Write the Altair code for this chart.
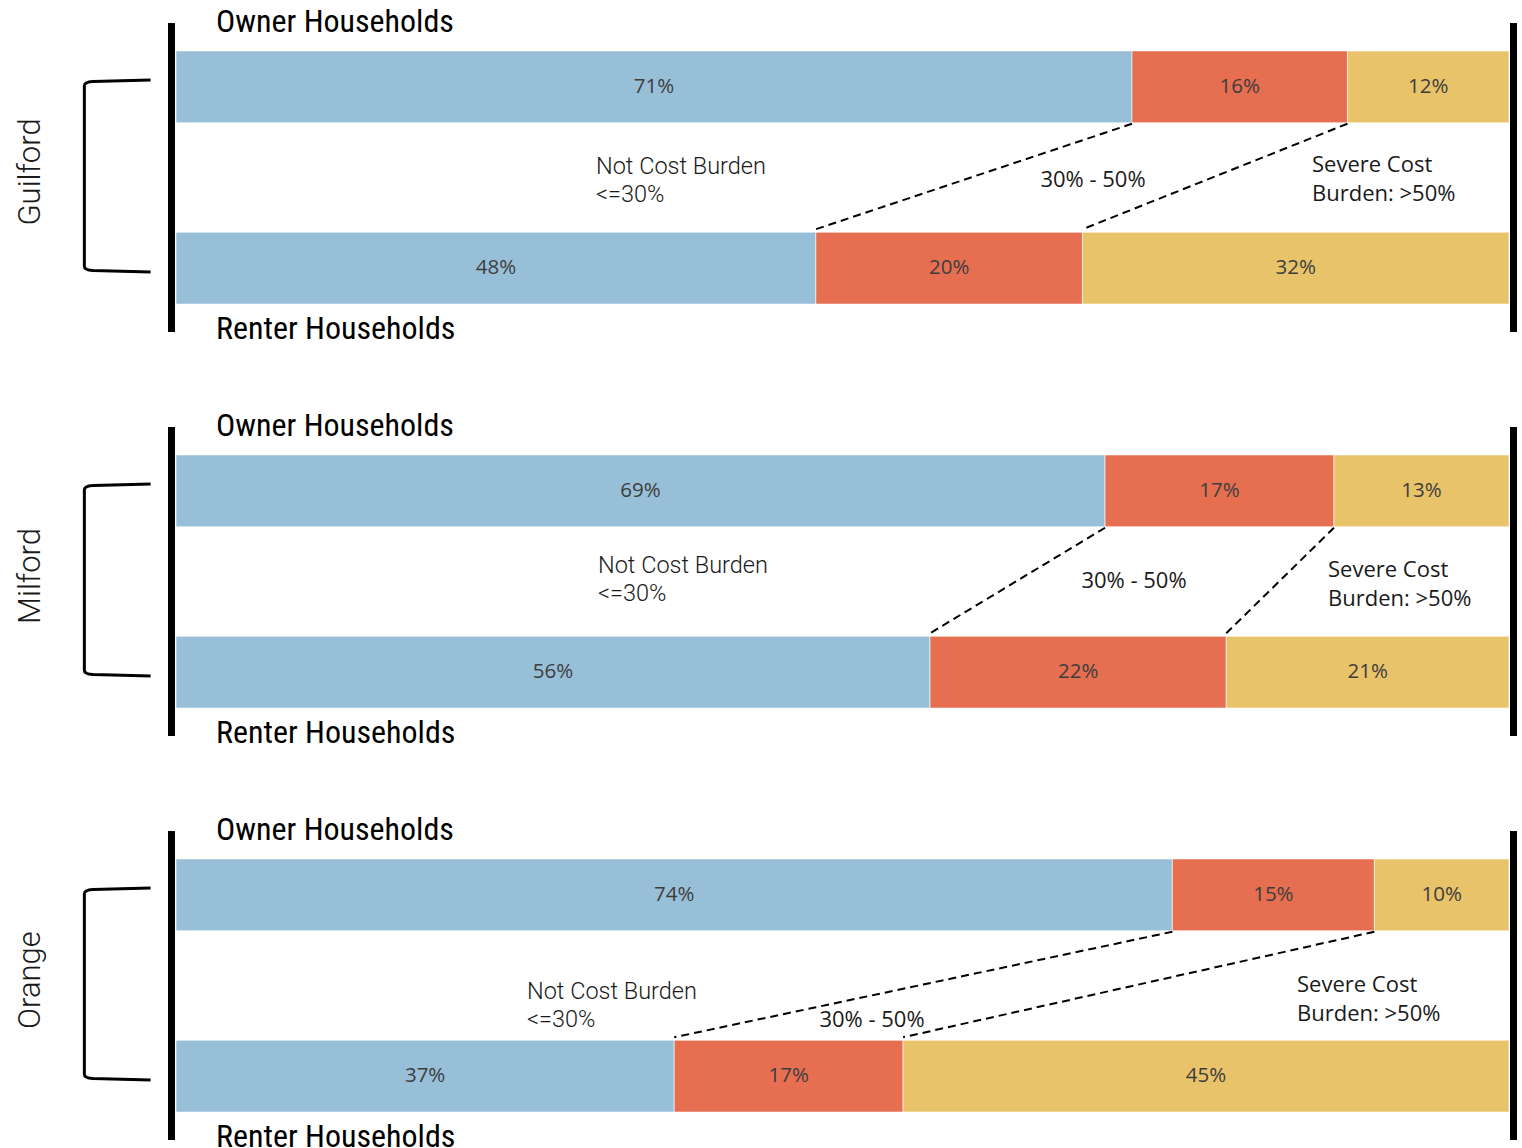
import altair as alt
import pandas as pd

# Housing cost burden shares (%) by county and tenure
counties = ["Guilford", "Milford", "Orange"]
categories = ["Not Cost Burden", "30% - 50%", "Severe Cost Burden"]
owner_pct = {
    "Guilford": [71, 16, 12],
    "Milford": [69, 17, 13],
    "Orange": [74, 15, 10],
}
renter_pct = {
    "Guilford": [48, 20, 32],
    "Milford": [56, 22, 21],
    "Orange": [37, 17, 45],
}
colors = ["#98BFD8", "#E66F51", "#E8C36A"]

# Panel geometry (pixels)
W, H = 1333, 309
Y_DOMAIN = ["Owner", "Renter"]
PAD_INNER, PAD_OUTER = 0.604, 0.154
step = H / (2 - PAD_INNER + 2 * PAD_OUTER)
OWNER_BOTTOM = PAD_OUTER * step + step * (1 - PAD_INNER)
RENTER_TOP = PAD_OUTER * step + step

# Annotation placement per county: (x, y) of each text line within the panel
annotation_layout = {
    "Guilford": {"ncb": (420, 144), "mid": (917, 157), "sev": (1136, 142)},
    "Milford": {"ncb": (422, 139), "mid": (958, 154), "sev": (1152, 143)},
    "Orange": {"ncb": (351, 161), "mid": (696, 189), "sev": (1121, 154)},
}

LABEL_FONT = "Open Sans"
NOTE_FONT = "Roboto"
HEAD_FONT = "Roboto Condensed, Liberation Sans Narrow, DejaVu Sans Condensed, Roboto"

BRACKET = ("M 0.35 -1 L -0.25 -0.985 Q -0.34 -0.98 -0.34 -0.94 "
           "L -0.34 0.94 Q -0.34 0.98 -0.25 0.985 L 0.35 1")


def bar_table(county):
    rows = []
    for hh, pcts in (("Owner", owner_pct[county]), ("Renter", renter_pct[county])):
        total = sum(pcts)
        acc = 0
        for cat, v in zip(categories, pcts):
            start = acc / total
            acc += v
            end = acc / total
            rows.append({"household": hh, "category": cat, "pct": v,
                         "start": start, "end": end, "mid": (start + end) / 2,
                         "label": f"{v}%"})
    return pd.DataFrame(rows)


def connector_table(county):
    o, r = owner_pct[county], renter_pct[county]
    to, tr = sum(o), sum(r)
    return pd.DataFrame({
        "owner_edge": [o[0] / to, (o[0] + o[1]) / to],
        "renter_edge": [r[0] / tr, (r[0] + r[1]) / tr],
    })


def one_row():
    return alt.Chart(pd.DataFrame({"k": [0]}))


def panel(county, first):
    df = bar_table(county)
    xs = alt.Scale(domain=[0, 1], nice=False, zero=False)
    ys = alt.Scale(domain=Y_DOMAIN, paddingInner=PAD_INNER, paddingOuter=PAD_OUTER)
    y = alt.Y("household:N", scale=ys, axis=None)

    bars = alt.Chart(df).mark_bar(stroke="white", strokeWidth=0.6).encode(
        x=alt.X("start:Q", scale=xs, axis=None),
        x2="end:Q",
        y=y,
        color=alt.Color("category:N", scale=alt.Scale(domain=categories, range=colors), legend=None),
    )
    labels = alt.Chart(df).mark_text(font=LABEL_FONT, fontSize=20.5, color="#3d3d3d", baseline="middle").encode(
        x=alt.X("mid:Q", scale=xs, axis=None), y=y, text="label:N"
    )
    connectors = alt.Chart(connector_table(county)).mark_rule(
        color="black", strokeWidth=2, strokeDash=[8, 5]
    ).encode(
        x=alt.X("owner_edge:Q", scale=xs, axis=None),
        x2="renter_edge:Q",
        y=alt.value(OWNER_BOTTOM + 1),
        y2=alt.value(RENTER_TOP - 3),
    )

    layers = [bars, connectors, labels]

    # frame rules at either end of the bars
    for xv in (-4.5, W + 4.5):
        layers.append(one_row().mark_rule(color="black", strokeWidth=7).encode(
            x=alt.value(xv), y=alt.value(0), y2=alt.value(H)))

    # bracket and county name
    layers.append(one_row().mark_point(shape=BRACKET, size=192 ** 2, color="black",
                                       strokeWidth=3, filled=False, opacity=1).encode(
        x=alt.value(-59), y=alt.value(153)))
    layers.append(one_row().mark_text(font=NOTE_FONT, fontSize=31, fontWeight=300, color="#1a1a1a",
                                      angle=270, align="center", baseline="middle").encode(
        x=alt.value(-145), y=alt.value(149), text=alt.value(county)))

    # tenure headings
    layers.append(one_row().mark_text(font=HEAD_FONT, fontSize=32, color="black",
                                      align="left", baseline="middle").encode(
        x=alt.value(40), y=alt.value(-1), text=alt.value("Owner Households")))
    layers.append(one_row().mark_text(font=HEAD_FONT, fontSize=32, color="black",
                                      align="left", baseline="middle").encode(
        x=alt.value(40), y=alt.value(H - 3), text=alt.value("Renter Households")))

    # category notes
    lay = annotation_layout[county]
    notes = [
        (lay["ncb"], ["Not Cost Burden", "<=30%"], "left", NOTE_FONT, 300, 28, 23.5),
        (lay["mid"], ["30% - 50%"], "center", LABEL_FONT, 400, 28, 22),
        (lay["sev"], ["Severe Cost", "Burden: >50%"], "left", LABEL_FONT, 400, 29, 22),
    ]
    for (nx, ny), lines, al, fnt, fw, lh, fs in notes:
        for i, line in enumerate(lines):
            layers.append(one_row().mark_text(font=fnt, fontSize=fs, fontWeight=fw, color="#1a1a1a",
                                              align=al, baseline="middle").encode(
                x=alt.value(nx), y=alt.value(ny + i * lh), text=alt.value(line)))

    if first:
        # fixes the top-left corner of the drawing
        layers.append(one_row().mark_rule(color="white", strokeWidth=0.5).encode(
            x=alt.value(-175), x2=alt.value(-174.5), y=alt.value(-22), y2=alt.value(-21.5)))

    return alt.layer(*layers).properties(width=W, height=H)


chart = alt.vconcat(
    *[panel(c, i == 0) for i, c in enumerate(counties)],
    spacing=95,
    bounds="flush",
).properties(padding=0, background="white").configure_view(strokeWidth=0)

chart.save("out.html", embed_options={"renderer": "svg", "actions": False})
